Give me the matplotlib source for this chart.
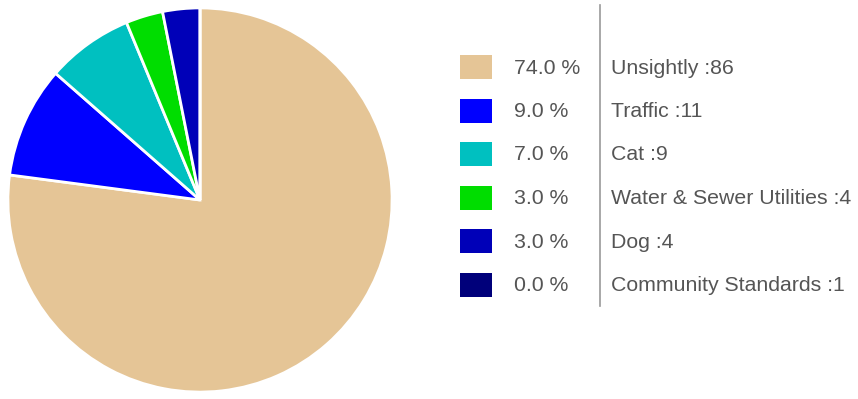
import matplotlib
matplotlib.use("Agg")
import matplotlib.pyplot as plt
from matplotlib.patches import Rectangle

categories = ["Unsightly", "Traffic", "Cat", "Water & Sewer Utilities", "Dog", "Community Standards"]
counts = [86, 11, 9, 4, 4, 1]
percents = [74.0, 9.0, 7.0, 3.0, 3.0, 0.0]
colors = ["#E5C596", "#0000FF", "#00C0C0", "#00DD00", "#0000B8", "#00007A"]

W, H = 858, 399
fig = plt.figure(figsize=(W / 100, H / 100), dpi=100)
plt.rcParams['font.family'] = ['Liberation Sans', 'DejaVu Sans']

# pie axes
cx, cy, r = 200, 200, 194
ax = fig.add_axes([(cx - r) / W, (H - cy - r) / H, 2 * r / W, 2 * r / H])
ax.pie(percents, colors=colors, startangle=90, counterclock=False,
       radius=1.0, wedgeprops=dict(edgecolor="white", linewidth=2))
ax.set_xlim(-1.01, 1.01)
ax.set_ylim(-1.01, 1.01)
ax.set_aspect("equal")
ax.axis("off")

# legend area in pixel coordinates
lax = fig.add_axes([0, 0, 1, 1])
lax.set_xlim(0, W)
lax.set_ylim(H, 0)
lax.axis("off")

fs = 15.3
row_y = [67, 110.5, 154, 197.5, 241, 284.5]
for i, (cat, cnt, pct, col) in enumerate(zip(categories, counts, percents, colors)):
    y = row_y[i]
    lax.add_patch(Rectangle((460, y - 12), 32, 24, facecolor=col, edgecolor="none"))
    lax.text(514, y + 1, f"{pct:.1f} %", fontsize=fs, color="#555555", va="center", ha="left")
    lax.text(611, y + 1, f"{cat} :{cnt}", fontsize=fs, color="#555555", va="center", ha="left")

lax.plot([600, 600], [5, 306], color="#999999", linewidth=1.2)

fig.savefig("out.png", dpi=100)
